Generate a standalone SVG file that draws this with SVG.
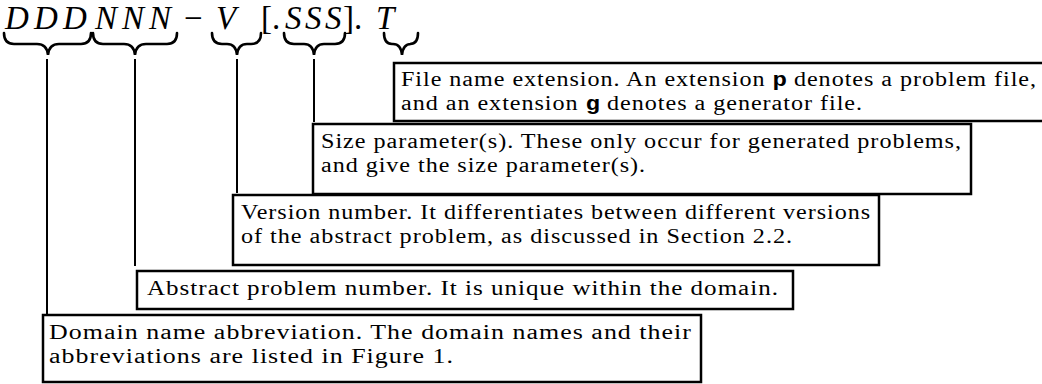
<svg xmlns="http://www.w3.org/2000/svg" width="1042" height="384" viewBox="0 0 1042 384">
<style>
  .m { font-family: "Liberation Serif", "DejaVu Serif", serif; font-style: italic; font-size: 33px; fill: #000; }
  .r { font-family: "Liberation Serif", "DejaVu Serif", serif; font-style: normal; font-size: 33px; fill: #000; }
  .t { font-family: "Liberation Serif", "DejaVu Serif", serif; font-size: 20px; letter-spacing: 0.8px; fill: #000; }
  .tt { font-family: "Liberation Mono", "DejaVu Sans Mono", monospace; font-weight: bold; letter-spacing: 0; }
  .box { fill: #fff; stroke: #000; stroke-width: 2.5; }
  .brace { fill: none; stroke: #000; stroke-width: 2.6; stroke-linecap: round; }
  .ln { stroke: #000; stroke-width: 2; fill: none; }
</style>
<g id="heading">
  <text class="m" x="5 34 63" y="29">DDD</text>
  <text class="m" x="95 122 149" y="29">NNN</text>
  <text class="r" x="184" y="29">−</text>
  <text class="m" x="216" y="29">V</text>
  <text class="r" x="261" y="29">[.</text>
  <text class="m" x="285 305 325" y="29">SSS</text>
  <text class="r" x="343" y="29">].</text>
  <text class="m" x="376" y="29">T</text>
</g>
<g id="braces">
  <path class="brace" d="M4,33 Q4,44 14,44 L37,44 Q47,44 48,55 Q49,44 59,44 L81,44 Q91,44 91,33"/>
  <path class="brace" d="M93,33 Q93,44 103,44 L124,44 Q134,44 135,55 Q136,44 146,44 L167,44 Q177,44 177,33"/>
  <path class="brace" d="M212,33 Q212,44 222,44 L227,44 Q236,44 237,55 Q238,44 247,44 L251,44 Q261,44 261,33"/>
  <path class="brace" d="M284,33 Q284,44 294,44 L304,44 Q313,44 314,55 Q315,44 324,44 L335,44 Q345,44 345,33"/>
  <path class="brace" d="M384,33 Q384,44 392,44 L393,44 Q401,44 402,55 Q403,44 411,44 L410,44 Q418,44 418,33"/>
</g>
<g id="connectors">
  <line class="ln" x1="47" y1="59" x2="47" y2="315"/>
  <line class="ln" x1="135" y1="59" x2="135" y2="266"/>
  <line class="ln" x1="237" y1="59" x2="237" y2="193"/>
  <line class="ln" x1="314" y1="59" x2="314" y2="122"/>
</g>
<g id="node-extension">
  <rect class="box" x="394" y="63" width="660" height="58"/>
  <text class="t" x="401" y="86" textLength="636" lengthAdjust="spacingAndGlyphs">File name extension.  An extension <tspan class="tt">p</tspan> denotes a problem file,</text>
  <text class="t" x="401" y="110" textLength="462" lengthAdjust="spacingAndGlyphs">and an extension <tspan class="tt">g</tspan> denotes a generator file.</text>
</g>
<g id="node-size">
  <rect class="box" x="313" y="124" width="658" height="70"/>
  <text class="t" x="321" y="148" textLength="641" lengthAdjust="spacingAndGlyphs">Size parameter(s). These only occur for generated problems,</text>
  <text class="t" x="321" y="172" textLength="325" lengthAdjust="spacingAndGlyphs">and give the size parameter(s).</text>
</g>
<g id="node-version">
  <rect class="box" x="233" y="195" width="646" height="70"/>
  <text class="t" x="241" y="219" textLength="630" lengthAdjust="spacingAndGlyphs">Version number. It differentiates between different versions</text>
  <text class="t" x="241" y="243" textLength="552" lengthAdjust="spacingAndGlyphs">of the abstract problem, as discussed in Section 2.2.</text>
</g>
<g id="node-abstract">
  <rect class="box" x="137" y="271" width="656" height="38"/>
  <text class="t" x="147" y="295" textLength="632" lengthAdjust="spacingAndGlyphs">Abstract problem number. It is unique within the domain.</text>
</g>
<g id="node-domain">
  <rect class="box" x="43" y="315" width="658" height="67"/>
  <text class="t" x="49" y="339" textLength="643" lengthAdjust="spacingAndGlyphs">Domain name abbreviation. The domain names and their</text>
  <text class="t" x="49" y="363" textLength="405" lengthAdjust="spacingAndGlyphs">abbreviations are listed in Figure 1.</text>
</g>
</svg>
